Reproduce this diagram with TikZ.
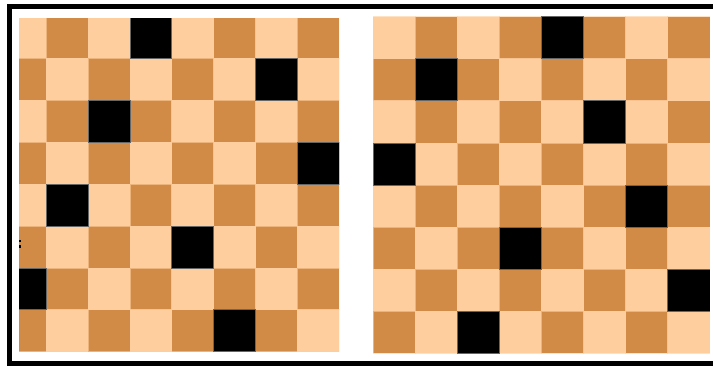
\documentclass[tikz,border=0pt]{standalone}
\definecolor{lightsq}{HTML}{FFCE9E}
\definecolor{darksq}{HTML}{D18B47}
\tikzset{
  sqedge/.style={draw=lightsq, draw opacity=0.6, line width=0.6pt},
  queensq/.style={fill=black, draw=black!60, line width=0.5pt},
  framebox/.style={draw=black, line width=5pt}
}
\newcommand{\chessboard}[4]{%
  % #1 = x0, #2 = y0, #3 = cell size, #4 = queen list row/col
  \foreach \r in {0,...,7}{
    \foreach \c in {0,...,7}{
      \pgfmathtruncatemacro\sqpar{mod(\r+\c,2)}
      \ifnum\sqpar=0 \def\sqcol{lightsq}\else\def\sqcol{darksq}\fi
      \fill[\sqcol] ({#1+\c*#3},{#2+\r*#3}) rectangle ++(#3,#3);
      \draw[sqedge] ({#1+\c*#3},{#2+\r*#3}) rectangle ++(#3,#3);
    }
  }
  \foreach \r/\c in {#4}{
    \filldraw[queensq] ({#1+\c*#3},{#2+\r*#3}) rectangle ++(#3,#3);
  }
}
\begin{document}
\begin{tikzpicture}[x=1pt,y=-1pt]
\useasboundingbox (0,0) rectangle (713,365);
\fill[white] (0,0) rectangle (713,365);
\clip (0,0) rectangle (713,365);
% left board
\begin{scope}
  \clip (19,18.3) rectangle (339.3,351.7);
  \chessboard{4.1}{16.4}{41.9}{0/3,1/6,2/2,3/7,4/1,5/4,6/0,7/5}
\end{scope}
% right board
\begin{scope}
  \clip (373,15.7) rectangle (709.8,353.3);
  \chessboard{373}{16.5}{42.1}{0/4,1/1,2/5,3/0,4/6,5/3,6/7,7/2}
\end{scope}
% small marks at left edge
\fill[black] (18.5,240) rectangle (20.8,242.4);
\fill[black] (18.5,245.4) rectangle (20.8,247.9);
% frame
\draw[framebox] (9,6.5) rectangle (740,363.5);
\end{tikzpicture}
\end{document}
